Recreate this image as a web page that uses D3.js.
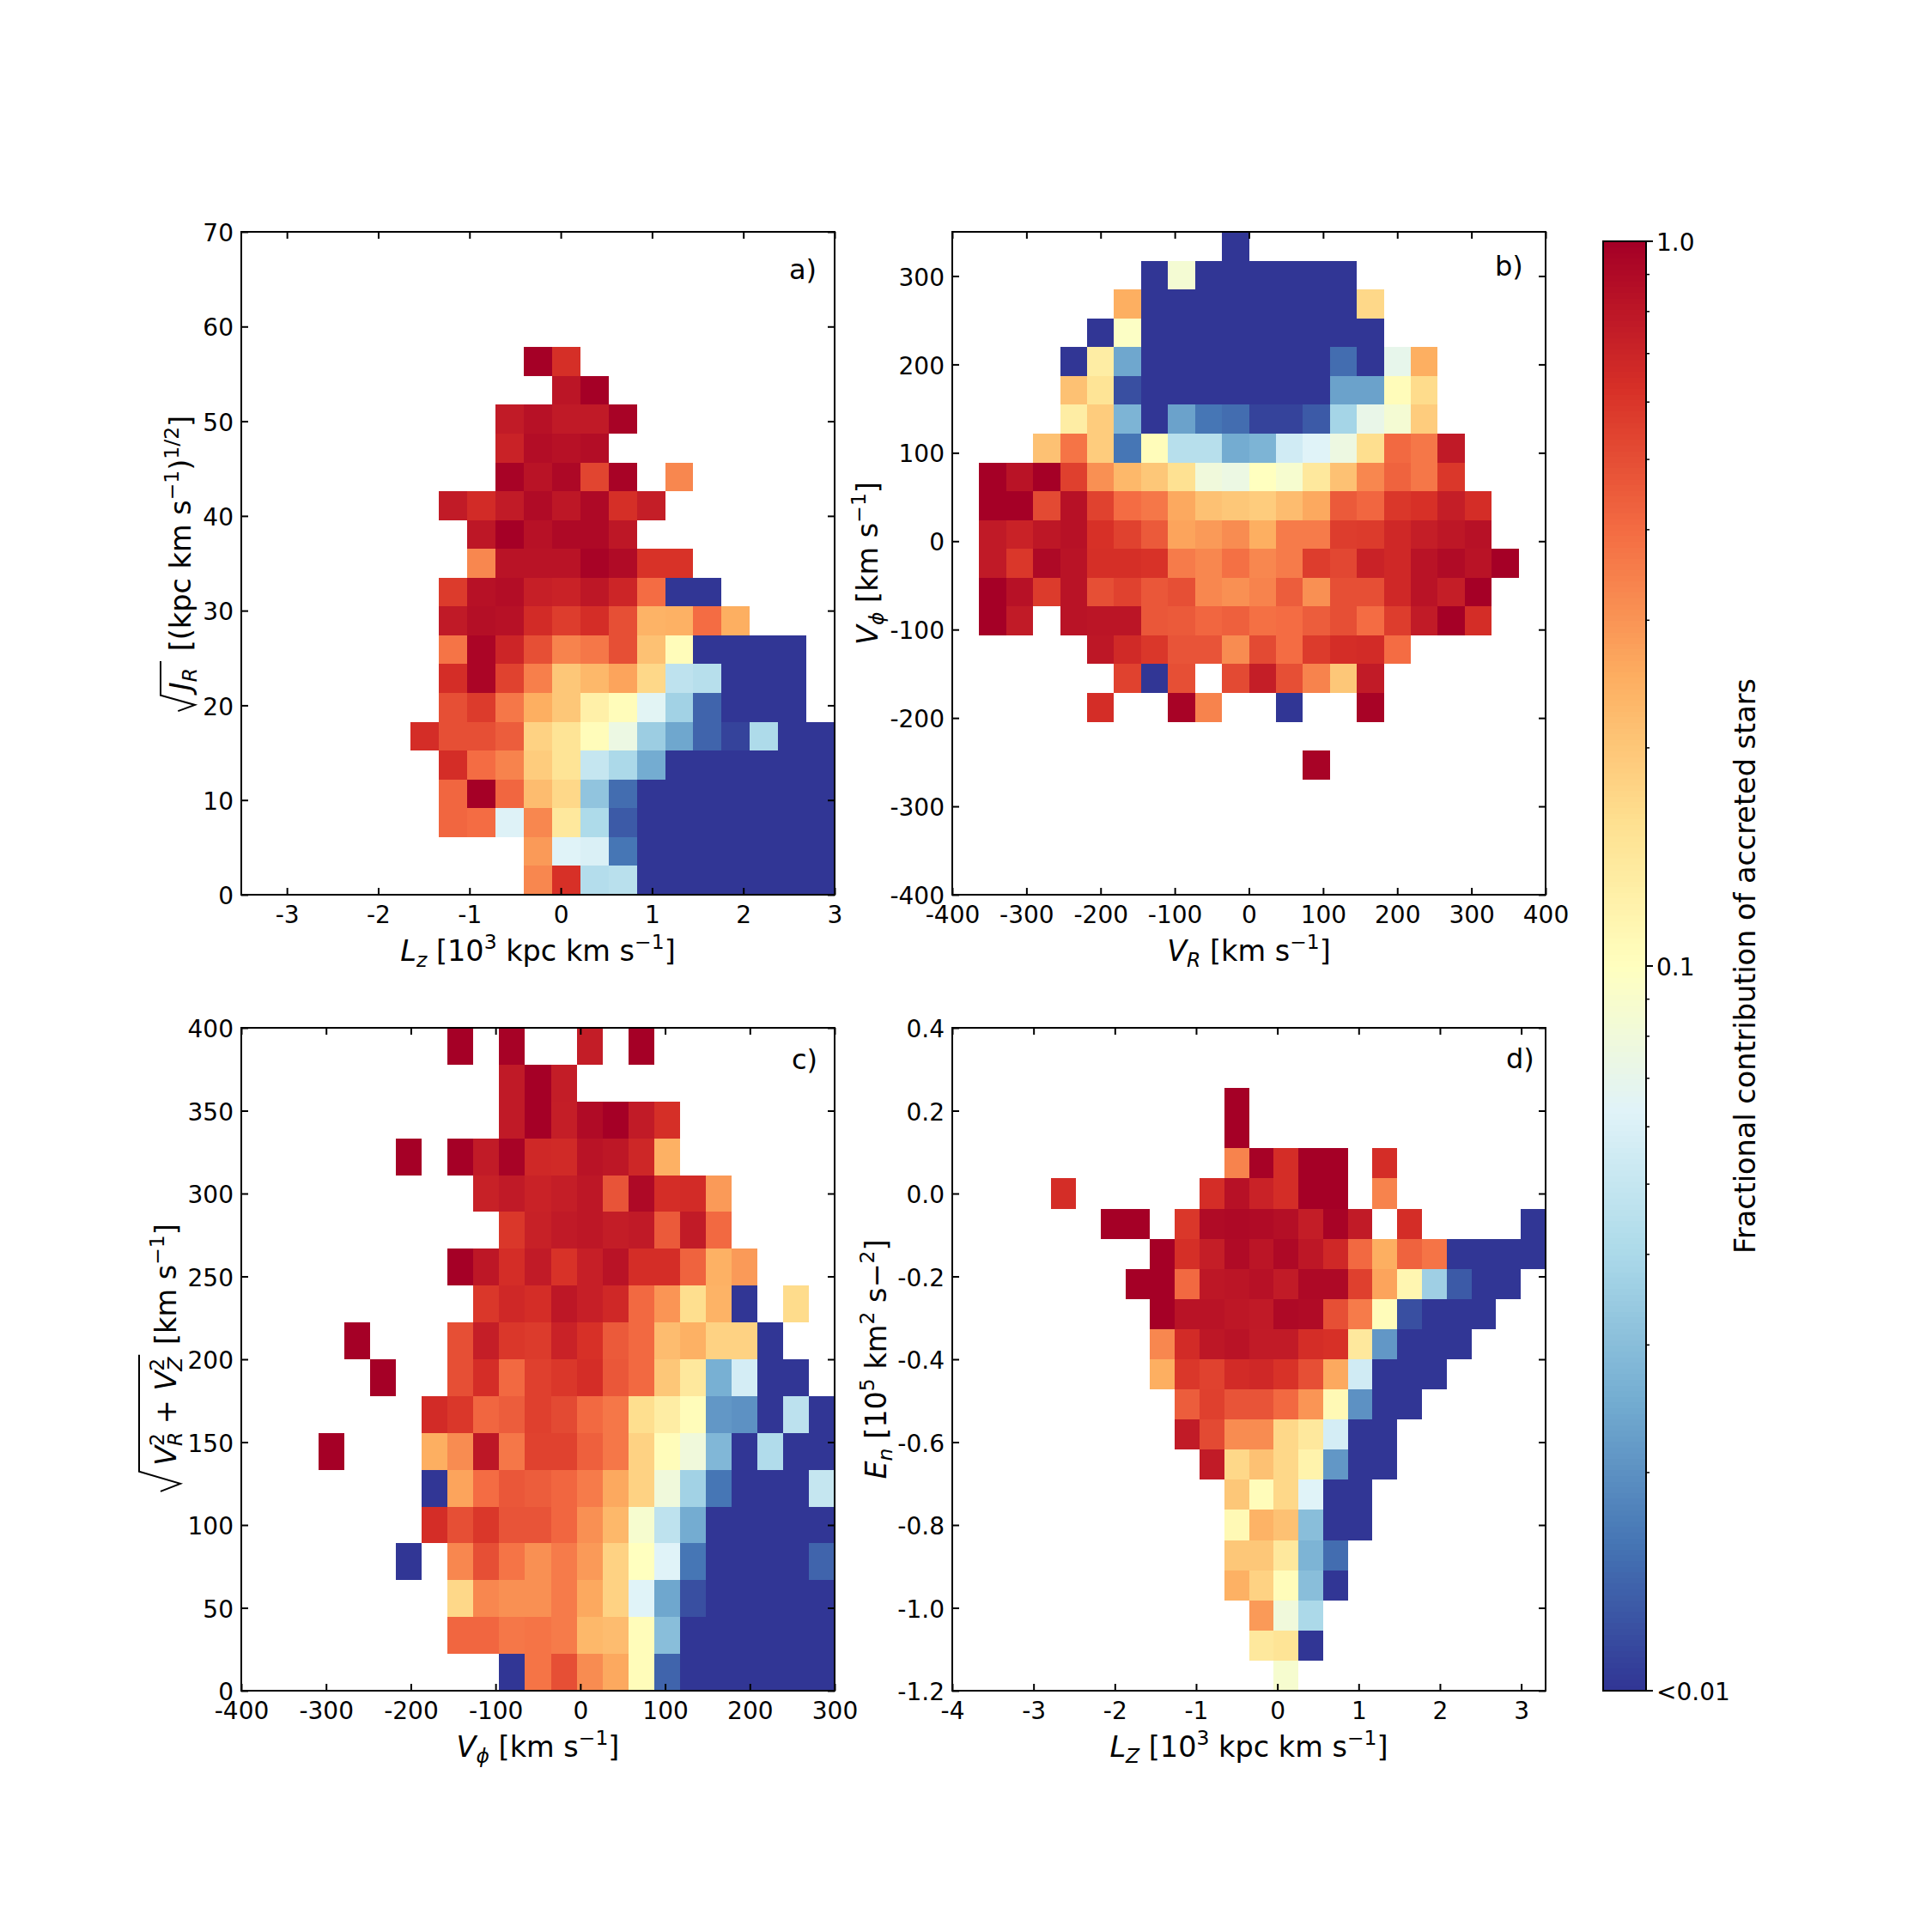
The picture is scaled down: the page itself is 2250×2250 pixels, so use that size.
<!DOCTYPE html>
<html>
<head>
<meta charset="utf-8">
<script src="https://cdn.jsdelivr.net/npm/d3@7"></script>
<style>
  html, body { margin: 0; padding: 0; background: #fff; }
  svg text { font-family: "DejaVu Sans", sans-serif; fill: #000; }
</style>
</head>
<body>
<svg id="fig" width="2250" height="2250"></svg>
<script>
const _ = null;
const B = 0.01; // cells at or below the colour-scale floor

// Fraction of accreted stars per bin; rows run upward, columns rightward.
const fracLzJr = [
  [_,_,_,_,.33,.63,.043,.045,B,B,B,B,B,B,B],
  [_,_,_,_,.29,.063,.06,.016,B,B,B,B,B,B,B],
  [_,.42,.4,.062,.33,.14,.041,.013,B,B,B,B,B,B,B],
  [_,.42,1,.42,.22,.17,.032,.015,B,B,B,B,B,B,B],
  [_,.65,.4,.34,.19,.15,.05,.04,.025,B,B,B,B,B,B],
  [.65,.5,.5,.45,.18,.15,.105,.075,.035,.024,.014,.011,.041,B,B],
  [_,.5,.58,.37,.25,.2,.125,.105,.065,.037,.014,B,B,B,_],
  [_,.65,.95,.55,.35,.2,.23,.27,.17,.047,.044,B,B,B,_],
  [_,.38,.95,.7,.5,.34,.37,.5,.21,.105,B,B,B,B,_],
  [_,.78,.87,.85,.66,.57,.65,.5,.24,.245,.4,.25],
  [_,.58,.85,.88,.74,.72,.8,.7,.4,B,B],
  [_,_,.33,.83,.83,.83,.97,.9,.62,.62],
  [_,_,.8,1,.85,.92,.92,.8],
  [_,.77,.66,.77,.9,.8,.92,.64,.75],
  [_,_,_,.97,.83,.93,.54,.97,_,.33],
  [_,_,_,.72,.88,.85,.88],
  [_,_,_,.77,.85,.78,.78,.97],
  [_,_,_,_,_,.82,1],
  [_,_,_,_,1,.64]
];

const fracVrVphi = [
  [_,_,_,_,_,_,_,_,_,_,_,_,.97],
  [],
  [_,_,_,_,.65,_,_,.97,.34,_,_,B,_,_,.97],
  [_,_,_,_,_,.55,B,.5,_,.52,.75,.5,.34,.2,.77],
  [_,_,_,_,.8,.67,.6,.48,.48,.32,.52,.4,.58,.65,.66,.4],
  [1,.77,_,.83,.82,.82,.47,.46,.42,.44,.39,.4,.45,.5,.4,.57,.77,1,.65],
  [1,.85,.58,.83,.5,.55,.47,.5,.33,.31,.34,.45,.31,.5,.5,.68,.83,.75,1],
  [.78,.6,.92,.83,.64,.64,.62,.36,.33,.39,.33,.36,.57,.53,.72,.68,.83,.9,.83,1],
  [.78,.72,.8,.85,.63,.55,.46,.27,.29,.32,.25,.36,.36,.57,.58,.68,.75,.8,.85],
  [1,1,.52,.85,.55,.4,.37,.26,.21,.2,.19,.22,.26,.46,.42,.6,.63,.75,.65],
  [1,.83,1,.56,.31,.23,.2,.155,.08,.075,.1,.088,.14,.21,.33,.43,.37,.6],
  [_,_,.21,.38,.19,.016,.105,.044,.044,.025,.027,.055,.063,.076,.16,.41,.37,.78],
  [_,_,_,.13,.19,.027,B,.023,.016,.015,.011,.011,.013,.038,.072,.085,.19],
  [_,_,_,.21,.15,.012,B,B,B,B,B,B,B,.023,.023,.105,.165],
  [_,_,_,B,.13,.024,B,B,B,B,B,B,B,.015,B,.07,.25],
  [_,_,_,_,B,.095,B,B,B,B,B,B,B,B,B],
  [_,_,_,_,_,.25,B,B,B,B,B,B,B,B,.17],
  [_,_,_,_,_,_,B,.085,B,B,B,B,B,B],
  [_,_,_,_,_,_,_,_,_,B]
];

const fracVphiVperp = [
  [_,_,_,_,_,_,_,B,.38,.5,.32,.26,.105,.014,B,B,B,B,B,B],
  [_,_,_,_,_,.42,.42,.37,.38,.36,.23,.22,.105,.03,B,B,B,B,B,B],
  [_,_,_,_,_,.17,.33,.31,.31,.36,.26,.18,.063,.024,.012,B,B,B,B,B],
  [_,_,_,B,_,.33,.5,.38,.31,.36,.29,.18,.1,.063,.016,B,B,B,B,.014],
  [_,_,_,_,.65,.5,.6,.48,.48,.42,.31,.23,.088,.047,.025,B,B,B,B,B],
  [_,_,_,_,B,.27,.4,.47,.45,.42,.36,.26,.18,.08,.037,.016,B,B,B,.05],
  [1,_,_,_,.25,.32,.8,.37,.55,.55,.44,.37,.18,.105,.08,.028,B,.042,B,B],
  [_,_,_,_,.66,.6,.42,.45,.56,.52,.41,.37,.16,.13,.105,.021,.02,B,.046,B],
  [_,_,1,_,_,.5,.65,.41,.56,.6,.65,.47,.41,.2,.14,.026,.057,B,B],
  [_,1,_,_,_,.5,.75,.6,.58,.72,.63,.46,.41,.22,.245,.18,.18,B],
  [_,_,_,_,_,_,.6,.68,.65,.8,.74,.68,.41,.3,.16,.24,B,_,.165],
  [_,_,_,_,_,1,.8,.65,.77,.62,.74,.83,.65,.65,.43,.245,.29],
  [_,_,_,_,_,_,_,.6,.73,.78,.8,.76,.78,.46,.77,.41],
  [_,_,_,_,_,_,.73,.78,.72,.75,.8,.48,.92,.65,.66,.29],
  [_,_,_,1,_,1,.77,.97,.68,.67,.83,.8,.69,.245],
  [_,_,_,_,_,_,_,.78,1,.75,.9,1,.77,.64],
  [_,_,_,_,_,_,_,.78,1,.76],
  [_,_,_,_,_,1,_,.98,_,_,.76,_,1]
];

const fracLzEn = [
  [_,_,_,_,_,_,_,_,_,.088],
  [_,_,_,_,_,_,_,_,.14,.15,B],
  [_,_,_,_,_,_,_,_,.29,.08,.04],
  [_,_,_,_,_,_,_,.245,.18,.105,.03,B],
  [_,_,_,_,_,_,_,.2,.2,.14,.027,.015],
  [_,_,_,_,_,_,_,.11,.24,.21,.03,B,B],
  [_,_,_,_,_,_,_,.2,.105,.17,.063,B,B],
  [_,_,_,_,_,_,.77,.17,.21,.17,.12,.021,B,B],
  [_,_,_,_,_,.77,.52,.32,.32,.17,.14,.057,B,B],
  [_,_,_,_,_,.45,.56,.48,.48,.41,.3,.11,.02,B,B],
  [_,_,_,_,.25,.6,.55,.66,.68,.62,.5,.26,.055,B,B,B],
  [_,_,_,_,.33,.66,.8,.83,.77,.77,.65,.63,.14,.021,B,B,B],
  [_,_,_,_,1,.83,.83,.8,.78,.92,.9,.5,.36,.105,.012,B,B,B],
  [_,_,_,1,1,.41,.8,.82,.85,.77,.92,.92,.56,.27,.115,.036,.013,B,B],
  [_,_,_,_,1,.64,.75,.9,.82,.92,.8,.68,.41,.25,.43,.38,B,B,B,B],
  [_,_,1,1,_,.6,.9,.92,.9,.87,.76,.97,.77,_,.65,_,_,_,_,B],
  [.65,_,_,_,_,_,.65,.85,.72,.65,1,1,_,.34],
  [_,_,_,_,_,_,_,.34,.98,.65,1,1,_,.65],
  [_,_,_,_,_,_,_,1],
  [_,_,_,_,_,_,_,1]
];

// Axis ticks
const ticksLzA = [-3, -2, -1, 0, 1, 2, 3];
const ticksJr = [0, 10, 20, 30, 40, 50, 60, 70];
const ticksVr = [-400, -300, -200, -100, 0, 100, 200, 300, 400];
const ticksVphiB = [-400, -300, -200, -100, 0, 100, 200, 300];
const ticksVphiC = [-400, -300, -200, -100, 0, 100, 200, 300];
const ticksVperp = [0, 50, 100, 150, 200, 250, 300, 350, 400];
const ticksLzD = [-4, -3, -2, -1, 0, 1, 2, 3];
const ticksEn = [-1.2, -1.0, -0.8, -0.6, -0.4, -0.2, 0.0, 0.2, 0.4];

// Colour bar
const barMajor = [1, 0.1, 0.01];
const barMajorLabels = ["1.0", "0.1", "<0.01"];
const barMinor = [.9, .8, .7, .6, .5, .4, .3, .2, .09, .08, .07, .06, .05, .04, .03, .02];
const barTitle = "Fractional contribution of accreted stars";

// RdYlBu anchors, low to high
const palette = ["#313695", "#4575b4", "#74add1", "#abd9e9", "#e0f3f8", "#ffffbf",
                 "#fee090", "#fdae61", "#f46d43", "#d73027", "#a50026"];
const ramp = d3.scaleLinear()
  .domain(d3.range(palette.length).map(i => i / (palette.length - 1)))
  .range(palette).interpolate(d3.interpolateRgb);
const toUnit = d3.scaleLog().domain([0.01, 1]).range([0, 1]).clamp(true);
const colour = v => ramp(toUnit(v));

const svg = d3.select("#fig");
const TICK_FONT = 28, LABEL_FONT = 33.5;

// Writes a run of mixed-style text; each part is [string, style] where style
// combines i (italic), ^ (superscript), v (subscript), o (set over the previous part).
function rich(sel, parts, size) {
  let prev = 0, last = null;
  parts.forEach(([str, style = ""]) => {
    const up = style.includes("^"), down = style.includes("v");
    const off = up ? -0.42 * size : down ? 0.2 * size : 0;
    const span = sel.append("tspan")
      .attr("dy", off - prev)
      .attr("font-size", up || down ? size * 0.7 : size)
      .attr("font-style", style.includes("i") ? "italic" : "normal")
      .style("white-space", "pre")
      .text(str);
    if (style.includes("o") && last) span.attr("dx", -last.node().getComputedTextLength());
    prev = off;
    last = span;
  });
  return sel;
}

const kms = [[" [km s"], ["\u22121", "^"], ["]"]];
const lzUnit = [[" [10"], ["3", "^"], [" kpc km s"], ["\u22121", "^"], ["]"]];

function fmtPlain(d) { return String(d); }
function fmtOne(d) { return d.toFixed(1); }

function panel(cfg) {
  const { left, top, width, height } = cfg.box;
  const x = d3.scaleLinear().domain(cfg.xDomain).range([left, left + width]);
  const y = d3.scaleLinear().domain(cfg.yDomain).range([top + height, top]);
  const dx = (cfg.xDomain[1] - cfg.xDomain[0]) / cfg.xBins;
  const dy = (cfg.yDomain[1] - cfg.yDomain[0]) / cfg.yBins;

  const cells = [];
  cfg.grid.forEach((row, r) => row.forEach((v, c) => {
    if (v != null) cells.push({ v, i: c + cfg.colStart, j: r + cfg.rowStart });
  }));

  const g = svg.append("g");
  g.append("g").selectAll("rect").data(cells).join("rect")
    .attr("shape-rendering", "crispEdges")
    .attr("x", d => x(cfg.xDomain[0] + d.i * dx))
    .attr("width", d => x(cfg.xDomain[0] + (d.i + 1) * dx) - x(cfg.xDomain[0] + d.i * dx))
    .attr("y", d => y(cfg.yDomain[0] + (d.j + 1) * dy))
    .attr("height", d => y(cfg.yDomain[0] + d.j * dy) - y(cfg.yDomain[0] + (d.j + 1) * dy))
    .attr("fill", d => colour(d.v));

  const styleAxis = a => {
    a.selectAll("path.domain").remove();
    a.selectAll("line").attr("stroke", "#000").attr("stroke-width", 2);
    a.selectAll("text").attr("font-size", TICK_FONT).attr("fill", "#000").attr("font-family", "DejaVu Sans");
  };
  g.append("g").attr("transform", `translate(0,${top + height})`)
    .call(d3.axisBottom(x).tickValues(cfg.xTicks).tickFormat(cfg.xFmt).tickSizeInner(-8).tickSizeOuter(0).tickPadding(13)).call(styleAxis);
  g.append("g").attr("transform", `translate(0,${top})`)
    .call(d3.axisTop(x).tickValues(cfg.xTicks).tickFormat("").tickSizeInner(-8).tickSizeOuter(0)).call(styleAxis);
  g.append("g").attr("transform", `translate(${left},0)`)
    .call(d3.axisLeft(y).tickValues(cfg.yTicks).tickFormat(cfg.yFmt).tickSizeInner(-8).tickSizeOuter(0).tickPadding(9)).call(styleAxis)
    .selectAll("text").attr("dy", "0.38em");
  g.append("g").attr("transform", `translate(${left + width},0)`)
    .call(d3.axisRight(y).tickValues(cfg.yTicks).tickFormat("").tickSizeInner(-8).tickSizeOuter(0)).call(styleAxis);

  g.append("rect").attr("x", left).attr("y", top).attr("width", width).attr("height", height)
    .attr("fill", "none").attr("stroke", "#000").attr("stroke-width", 2);

  g.append("text").attr("x", cfg.tagX).attr("y", top + cfg.tagDrop).attr("font-size", 32).text(cfg.tag);

  const xl = g.append("text").attr("x", left + width / 2).attr("y", top + height + 77).attr("text-anchor", "middle");
  rich(xl, cfg.xLabel, LABEL_FONT);

  if (cfg.radicand) {
    radicalLabel(g, cfg.yBase, cfg.yMid, cfg.radicand, cfg.yLabel, cfg.rootRise, cfg.rootMark);
  } else {
    const yl = g.append("text").attr("text-anchor", "middle")
      .attr("transform", `translate(${cfg.yBase},${cfg.yMid}) rotate(-90)`);
    rich(yl, cfg.yLabel, LABEL_FONT);
  }
}

// Rotated label with a square root drawn over its first part.
function radicalLabel(g, base, mid, radicand, rest, rise, mark) {
  const holder = g.append("g");
  const inner = holder.append("text");
  rich(inner, radicand, LABEL_FONT);
  const tail = holder.append("text");
  rich(tail, rest, LABEL_FONT);
  const rootW = inner.node().getBBox().width;
  const tailW = tail.node().getBBox().width;
  const gap = 3;
  const total = mark + rootW + gap + tailW;
  const u0 = -total / 2;
  inner.attr("x", u0 + mark);
  tail.attr("x", u0 + mark + rootW + gap);
  holder.attr("transform", `translate(${base},${mid}) rotate(-90)`);
  holder.append("path")
    .attr("d", d3.line()([[u0, -rise * 0.42], [u0 + mark * 0.3, 5], [u0 + mark * 0.77, -rise], [u0 + mark + rootW + 2, -rise]]))
    .attr("fill", "none").attr("stroke", "#000").attr("stroke-width", 2);
}

const W = 691, H = 772;
panel({
  box: { left: 281, top: 270, width: W, height: H },
  xDomain: [-3.5, 3], yDomain: [0, 70], xBins: 21, yBins: 23, colStart: 6, rowStart: 0,
  grid: fracLzJr, xTicks: ticksLzA, yTicks: ticksJr, xFmt: fmtPlain, yFmt: fmtPlain,
  tag: "a)", tagX: 919, tagDrop: 55,
  xLabel: [["L", "i"], ["z", "iv"], ...lzUnit],
  radicand: [["J", "i"], ["R", "iv"]],
  yLabel: [[" [(kpc km s"], ["\u22121", "^"], [")"], ["1/2", "^"], ["]"]],
  yBase: 222, yMid: 656, rootRise: 35, rootMark: 24
});
panel({
  box: { left: 1109, top: 270, width: W, height: H },
  xDomain: [-400, 400], yDomain: [-400, 350], xBins: 22, yBins: 23, colStart: 1, rowStart: 4,
  grid: fracVrVphi, xTicks: ticksVr, yTicks: ticksVphiB, xFmt: fmtPlain, yFmt: fmtPlain,
  tag: "b)", tagX: 1741, tagDrop: 51,
  xLabel: [["V", "i"], ["R", "iv"], ...kms],
  yLabel: [["V", "i"], ["\u03d5", "iv"], ...kms],
  yBase: 1022, yMid: 656
});
panel({
  box: { left: 281, top: 1197, width: W, height: H },
  xDomain: [-400, 300], yDomain: [0, 400], xBins: 23, yBins: 18, colStart: 3, rowStart: 0,
  grid: fracVphiVperp, xTicks: ticksVphiC, yTicks: ticksVperp, xFmt: fmtPlain, yFmt: fmtPlain,
  tag: "c)", tagX: 922, tagDrop: 48,
  xLabel: [["V", "i"], ["\u03d5", "iv"], ...kms],
  radicand: [["V", "i"], ["R", "iv"], ["2", "^o"], [" + "], ["V", "i"], ["Z", "iv"], ["2", "^o"]],
  yLabel: kms,
  yBase: 205, yMid: 1581, rootRise: 43, rootMark: 30
});
panel({
  box: { left: 1109, top: 1197, width: W, height: H },
  xDomain: [-4, 3.3], yDomain: [-1.2, 0.4], xBins: 24, yBins: 22, colStart: 4, rowStart: 0,
  grid: fracLzEn, xTicks: ticksLzD, yTicks: ticksEn, xFmt: fmtPlain, yFmt: fmtOne,
  tag: "d)", tagX: 1754, tagDrop: 47,
  xLabel: [["L", "i"], ["Z", "iv"], ...lzUnit],
  yLabel: [["E", "i"], ["n", "iv"], [" [10"], ["5", "^"], [" km"], ["2", "^"], [" s\u2212"], ["2", "^"], ["]"]],
  yBase: 1032, yMid: 1583
});

// Colour bar, log-spaced from the floor up to 1
const bar = { left: 1867, top: 281, width: 50, height: 1688 };
const barY = d3.scaleLog().domain([0.01, 1]).range([bar.top + bar.height, bar.top]);
const barG = svg.append("g");
const levels = d3.range(256).map(i => i / 255);
const stripH = bar.height / levels.length;
barG.selectAll("rect").data(levels).join("rect")
  .attr("shape-rendering", "crispEdges")
  .attr("x", bar.left).attr("width", bar.width)
  .attr("y", t => bar.top + bar.height - (t * 255 + 1) * stripH)
  .attr("height", stripH + 0.6)
  .attr("fill", t => ramp(t));
barG.append("rect").attr("x", bar.left).attr("y", bar.top).attr("width", bar.width).attr("height", bar.height)
  .attr("fill", "none").attr("stroke", "#000").attr("stroke-width", 2);
barG.selectAll("line.major").data(barMajor).join("line").attr("class", "major")
  .attr("x1", bar.left + bar.width).attr("x2", bar.left + bar.width + 8)
  .attr("y1", d => barY(d)).attr("y2", d => barY(d))
  .attr("stroke", "#000").attr("stroke-width", 2);
barG.selectAll("line.minor").data(barMinor).join("line").attr("class", "minor")
  .attr("x1", bar.left + bar.width).attr("x2", bar.left + bar.width + 4)
  .attr("y1", d => barY(d)).attr("y2", d => barY(d))
  .attr("stroke", "#000").attr("stroke-width", 1.5);
barG.selectAll("text.lab").data(barMajor).join("text").attr("class", "lab")
  .attr("x", bar.left + bar.width + 12).attr("y", d => barY(d))
  .attr("dy", "0.38em").attr("font-size", TICK_FONT)
  .text((d, i) => barMajorLabels[i]);
barG.append("text").attr("text-anchor", "middle")
  .attr("transform", `translate(2044,1125) rotate(-90)`)
  .attr("font-size", LABEL_FONT).text(barTitle);
</script>
</body>
</html>
